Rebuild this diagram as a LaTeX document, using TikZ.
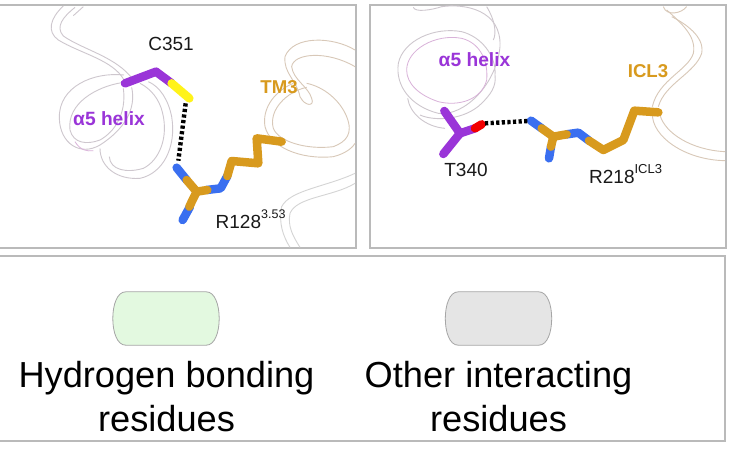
\documentclass[tikz,border=0pt]{standalone}
\usepackage{fontspec}
\setmainfont{Liberation Sans}
\tikzset{
  panel/.style={draw=black!27,line width=1.2pt,fill=white},
  zoomed/.style={x=0.33333pt,y=-0.33333pt},
  ribgray/.style={draw=black!17,line width=0.9pt},
  riblav/.style={draw=violet!25!black!22,line width=0.9pt},
  ribpur/.style={draw=violet!30,line width=0.8pt},
  ribtan/.style={draw=orange!45!black!28,line width=0.9pt},
  stick/.style={line width=8.5pt,line cap=round,line join=round},
  hbond/.style={draw=black,line width=4.4pt,dash pattern=on 3.2pt off 2.4pt},
  lab/.style={font=\fontsize{19}{22}\selectfont,text=black!90,inner sep=0pt},
  purplab/.style={font=\bfseries\fontsize{19.2}{22}\selectfont,text=pur,inner sep=0pt},
  goldlab/.style={font=\bfseries\fontsize{18.6}{22}\selectfont,text=gold,inner sep=0pt},
  legendtxt/.style={font=\fontsize{36.2}{44}\selectfont,align=center,text=black,inner sep=0pt},
  pillbox/.style={minimum width=106pt,minimum height=53pt,inner sep=0pt},
  pilledge/.style={draw=black!35,line width=0.8pt}
}
\definecolor{pur}{HTML}{9A35D8}
\definecolor{gold}{HTML}{D89A1E}
\definecolor{nblue}{HTML}{3A6FF0}
\definecolor{pgreen}{HTML}{E3F9E0}
\definecolor{pgray}{HTML}{E5E5E5}
\newcommand{\pillshape}[2]{%
  \path[pilledge,fill=#2]
    ([xshift=13pt]#1.north west) -- ([xshift=-13pt]#1.north east)
    .. controls ([xshift=-4pt]#1.north east) and ([yshift=13pt]#1.east) .. (#1.east)
    .. controls ([yshift=-13pt]#1.east) and ([xshift=-4pt]#1.south east) .. ([xshift=-13pt]#1.south east)
    -- ([xshift=13pt]#1.south west)
    .. controls ([xshift=4pt]#1.south west) and ([yshift=-13pt]#1.west) .. (#1.west)
    .. controls ([yshift=13pt]#1.west) and ([xshift=4pt]#1.north west) .. ([xshift=13pt]#1.north west) -- cycle;}
\begin{document}
\begin{tikzpicture}[x=1pt,y=-1pt]
\useasboundingbox (0,0) rectangle (741,450);
\fill[white] (0,0) rectangle (741,450);
% panels
\draw[panel] (-2,5) rectangle (356,248);
\draw[panel] (370,5) rectangle (726,248);
\draw[panel] (-2,256) rectangle (725,441);

% left panel
\begin{scope}[zoomed]
  % upper gray ribbon
  \draw[riblav] (190,18) .. controls (150,55) and (140,95) .. (175,120) .. controls (240,160) and (340,180) .. (372,240);
  \draw[riblav] (225,22) .. controls (190,50) and (165,80) .. (190,108) .. controls (250,150) and (350,170) .. (400,240);
  \draw[riblav] (250,20) -- (220,47);
  % helix
  \draw[riblav] (372,225) .. controls (280,215) and (175,260) .. (178,355) .. controls (180,430) and (240,470) .. (300,435) .. controls (370,390) and (410,330) .. (395,262);
  \draw[ribpur] (225,425) .. controls (240,450) and (260,455) .. (280,452);
  \draw[riblav] (365,248) .. controls (290,260) and (200,310) .. (210,390) .. controls (220,430) and (260,435) .. (300,420) .. controls (345,395) and (380,340) .. (370,265);
  \draw[riblav] (300,445) .. controls (300,500) and (350,540) .. (420,535) .. controls (490,520) and (530,440) .. (515,350) .. controls (505,300) and (480,260) .. (445,245);
  \draw[riblav] (328,470) .. controls (330,510) and (380,520) .. (430,505) .. controls (480,480) and (505,410) .. (488,340) .. controls (478,295) and (450,265) .. (420,250);
  % TM3 ribbon
  \draw[ribtan] (1065,150) .. controls (1000,110) and (880,105) .. (855,170) .. controls (850,220) and (890,240) .. (900,290) .. controls (915,320) and (945,320) .. (935,295) .. controls (925,260) and (880,240) .. (875,200) .. controls (880,160) and (980,150) .. (1065,200);
  \draw[ribtan] (880,250) .. controls (830,270) and (785,320) .. (795,380) .. controls (810,440) and (900,480) .. (1000,470) .. controls (1040,460) and (1060,440) .. (1065,430);
  \draw[ribtan] (920,262) .. controls (860,275) and (805,330) .. (820,385) .. controls (835,425) and (920,450) .. (1000,440) .. controls (1040,425) and (1060,400) .. (1040,350) .. controls (1020,300) and (970,260) .. (920,250);
  % lower right ribbon
  \draw[ribgray] (1065,520) .. controls (980,560) and (870,570) .. (845,620) .. controls (835,670) and (850,710) .. (870,742);
  \draw[ribgray] (1065,550) .. controls (1000,590) and (890,590) .. (870,640) .. controls (862,680) and (880,710) .. (900,742);
  % residues
  \coordinate (sg) at (557,310);
  \coordinate (nh) at (535,482);
  \draw[stick,pur] (375,250) -- (468,215) -- (515,250);
  \draw[stick,yellow!90!white] (515,250) -- (568,295);
  \draw[stick,nblue] (530,503) -- (560,540);
  \draw[stick,nblue] (570,620) -- (548,660);
  \draw[stick,nblue] (620,570) -- (662,565) -- (682,528);
  \draw[stick,gold] (560,540) -- (590,575) -- (568,620);
  \draw[stick,gold] (590,575) -- (622,570);
  \draw[stick,gold] (682,528) -- (695,483) -- (775,490) -- (770,415) -- (845,425);
  \draw[hbond] (sg) -- (nh);
\end{scope}
\node[lab] (c351) at (171,44) {C351};
\node[purplab] (a5l) at (109,119) {α5 helix};
\node[goldlab] (tm3) at (279,87) {TM3};
\node[lab,anchor=west] (r128) at (215.5,219) {R128\raisebox{1.05ex}{\fontsize{12.5}{13}\selectfont 3.53}};

% right panel
\begin{scope}[shift={(365,0)},zoomed]
  % helix
  \draw[riblav] (145,22) .. controls (150,38) and (200,30) .. (230,20) .. controls (300,10) and (410,30) .. (405,140) .. controls (395,250) and (300,350) .. (220,340) .. controls (140,320) and (90,260) .. (100,190) .. controls (115,120) and (210,80) .. (290,95) .. controls (350,110) and (395,170) .. (390,225);
  \draw[riblav] (365,20) .. controls (390,60) and (395,100) .. (385,120);
  \draw[ribpur] (125,210) .. controls (125,150) and (210,100) .. (290,115) .. controls (350,130) and (370,190) .. (365,240) .. controls (350,300) and (280,320) .. (220,305) .. controls (160,285) and (125,250) .. (125,210);
  \draw[riblav] (128,295) .. controls (135,340) and (180,380) .. (240,385);
  \draw[riblav] (165,345) .. controls (210,365) and (300,360) .. (350,310) .. controls (375,285) and (395,260) .. (390,225);
  % ICL3 ribbon
  \draw[ribtan] (895,20) .. controls (905,50) and (950,40) .. (965,20);
  \draw[ribtan] (920,50) .. controls (960,70) and (1020,110) .. (1010,160) .. controls (990,220) and (900,250) .. (880,320);
  \draw[ribtan] (905,30) .. controls (950,70) and (995,110) .. (985,160) .. controls (970,210) and (880,240) .. (862,320);
  \draw[ribtan] (862,340) .. controls (860,410) and (960,480) .. (1080,482);
  \draw[ribtan] (885,345) .. controls (900,400) and (980,450) .. (1080,455);
  % residues
  \coordinate (og) at (360,370);
  \coordinate (nh2) at (490,363);
  \draw[stick,pur] (238,333) -- (285,400) -- (235,462);
  \draw[stick,pur] (285,400) -- (330,385);
  \draw[stick,red!95!black] (330,385) -- (350,373);
  \draw[stick,nblue] (498,362) -- (530,385);
  \draw[stick,nblue] (558,440) -- (552,475);
  \draw[stick,nblue] (605,403) -- (640,398) -- (672,422);
  \draw[stick,gold] (530,385) -- (565,410) -- (558,440);
  \draw[stick,gold] (565,410) -- (605,403);
  \draw[stick,gold] (672,422) -- (715,450) -- (775,420) -- (808,332) -- (880,337);
  \draw[hbond] (og) -- (nh2);
\end{scope}
\node[purplab] (a5r) at (474.5,60) {α5 helix};
\node[goldlab] (icl3) at (648,71) {ICL3};
\node[lab] (t340) at (466,170) {T340};
\node[lab,anchor=west] (r218) at (589,174) {R218\raisebox{1.05ex}{\fontsize{13}{14}\selectfont ICL3}};

% legend
\node[pillbox] (green) at (166,318.5) {};
\node[pillbox] (grey) at (498.5,318.5) {};
\pillshape{green}{pgreen}
\pillshape{grey}{pgray}
\node[legendtxt] (hb) at (166.5,397) {Hydrogen bonding\\residues};
\node[legendtxt] (oi) at (498.5,397) {Other interacting\\residues};
\end{tikzpicture}
\end{document}
